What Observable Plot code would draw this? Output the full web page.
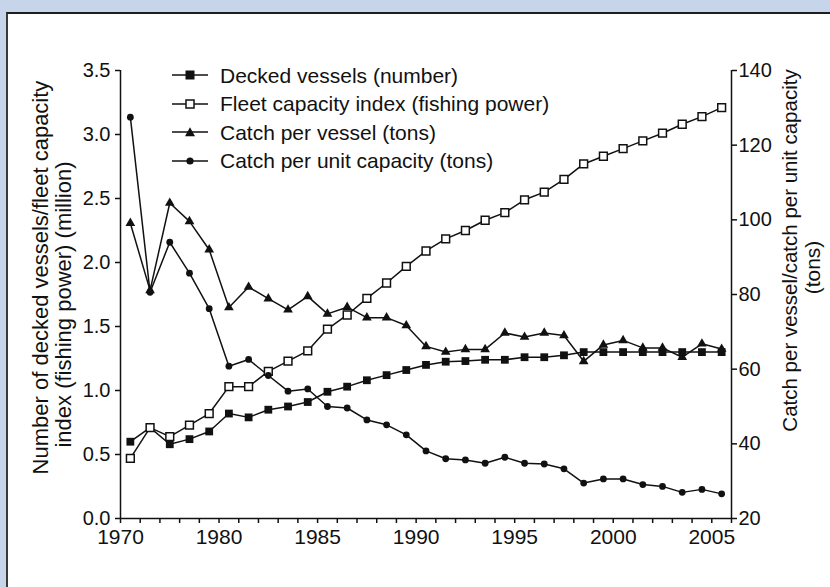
<!DOCTYPE html>
<html><head><meta charset="utf-8">
<script src="https://cdn.jsdelivr.net/npm/d3@7"></script>
<script src="https://cdn.jsdelivr.net/npm/@observablehq/plot@0.6"></script>
<style>
html,body{margin:0;padding:0;width:830px;height:587px;overflow:hidden;background:#c6d5ea;font-family:"Liberation Sans",Arial,sans-serif;}
#panel{position:absolute;left:6px;top:12px;width:840px;height:600px;background:#fff;border-top:2px solid #1e1e1e;border-left:2px solid #3a3a3a;}
#chart{position:absolute;left:0;top:0;}
#legend{position:absolute;left:172px;top:61px;font-size:21px;color:#111;line-height:1;}
.row{height:28.5px;display:flex;align-items:center;white-space:nowrap;}
.row svg{margin-right:12px;flex:none;}
</style></head><body>
<div id="panel"></div><div id="chart"></div><div id="legend"></div>
<script>
// ---- data ----
const years = d3.range(1975, 2006);
const deckedVessels = [0.60,0.71,0.58,0.62,0.68,0.82,0.79,0.85,0.875,0.91,0.99,1.03,1.08,1.12,1.16,1.20,
  1.225,1.23,1.24,1.24,1.26,1.26,1.275,1.30,1.30,1.30,1.30,1.30,1.30,1.30,1.30];
const fleetCapacity = [0.47,0.71,0.64,0.73,0.82,1.03,1.03,1.15,1.23,1.31,1.48,1.59,
  1.72,1.84,1.97,2.09,2.185,2.25,2.33,2.39,2.49,2.55,2.65,2.77,2.83,2.89,2.95,3.01,3.08,3.14,3.21];
const catchPerVessel = [99.1,81.1,104.5,99.6,92.0,76.5,82.0,78.9,75.9,79.5,74.8,76.6,73.8,73.8,71.7,66.1,
  64.6,65.3,65.3,69.7,68.6,69.7,69.0,62.1,66.5,67.7,65.7,65.7,63.2,66.8,65.4];
const catchPerCapacity = [127.5,80.6,94.0,85.7,76.2,60.8,62.6,58.3,54.1,54.7,50.0,49.6,46.4,45.1,42.4,38.1,
  36.0,35.7,34.8,36.4,34.8,34.6,33.3,29.5,30.6,30.6,29.1,28.6,27.0,27.8,26.6];
const seriesNames = ["Decked vessels (number)","Fleet capacity index (fishing power)","Catch per vessel (tons)","Catch per unit capacity (tons)"];
const xDomain = [1975, 2006];
const xLabelYears = [1975,1980,1985,1990,1995,2000,2005];
const xTickLabels = ["1970","1980","1985","1990","1995","2000","2005"];
const leftDomain = [0, 3.5];
const leftTicks = [0,0.5,1,1.5,2,2.5,3,3.5];
const rightDomain = [20, 140];
const rightTicks = [20,40,60,80,100,120,140];
const leftTitle = ["Number of decked vessels/fleet capacity","index (fishing power) (million)"];
const rightTitle = ["Catch per vessel/catch per unit capacity","(tons)"];

// right axis values mapped onto the shared (left) y scale
const toLeft = v => (v - rightDomain[0]) / (rightDomain[1] - rightDomain[0]) * (leftDomain[1] - leftDomain[0]) + leftDomain[0];
const fromLeft = v => (v - leftDomain[0]) / (leftDomain[1] - leftDomain[0]) * (rightDomain[1] - rightDomain[0]) + rightDomain[0];

const table = years.map((year, i) => ({
  x: year + 0.5,
  decked: deckedVessels[i],
  fleet: fleetCapacity[i],
  cpv: toLeft(catchPerVessel[i]),
  cpu: toLeft(catchPerCapacity[i])
}));
const labelOf = new Map(xLabelYears.map((y, i) => [y, xTickLabels[i]]));
const INK = "#111";
const SW = 1.5;
const titleStyle = {rotate: -90, textAnchor: "middle", lineAnchor: "middle", fontSize: 21, fill: INK};

const chart = Plot.plot({
  width: 830, height: 587,
  marginLeft: 120, marginRight: 99, marginTop: 70, marginBottom: 69,
  style: {background: "transparent", color: INK, fontFamily: '"Liberation Sans", Arial, sans-serif'},
  x: {domain: xDomain, axis: null},
  y: {domain: leftDomain, axis: null},
  marks: [
    Plot.ruleY([leftDomain[0]], {stroke: INK, strokeWidth: SW}),
    Plot.ruleX(xDomain, {stroke: INK, strokeWidth: SW}),
    Plot.axisX(d3.range(xDomain[0], xDomain[1] + 1), {tickSize: 5, tickPadding: 6, fontSize: 21,
      tickFormat: d => labelOf.get(d) ?? "", label: null, strokeWidth: SW}),
    Plot.axisY(leftTicks, {anchor: "left", tickSize: 5, tickPadding: 5, fontSize: 20,
      tickFormat: d3.format(".1f"), label: null, strokeWidth: SW}),
    Plot.axisY(rightTicks.map(toLeft), {anchor: "right", tickSize: 5, tickPadding: 2, fontSize: 20,
      tickFormat: d => String(Math.round(fromLeft(d))), label: null, strokeWidth: SW}),
    // series
    Plot.lineY(table, {x: "x", y: "decked", stroke: INK, strokeWidth: SW}),
    Plot.lineY(table, {x: "x", y: "fleet", stroke: INK, strokeWidth: SW}),
    Plot.lineY(table, {x: "x", y: "cpv", stroke: INK, strokeWidth: SW}),
    Plot.lineY(table, {x: "x", y: "cpu", stroke: INK, strokeWidth: SW}),
    Plot.dot(table, {x: "x", y: "decked", symbol: "square", fill: INK, r: 4.4}),
    Plot.dot(table, {x: "x", y: "fleet", symbol: "square", fill: "#fff", stroke: INK, strokeWidth: 1.5, r: 4.4}),
    Plot.dot(table, {x: "x", y: "cpv", symbol: "triangle", fill: INK, r: 3.6}),
    Plot.dot(table, {x: "x", y: "cpu", symbol: "circle", fill: INK, r: 3.4}),
    // axis titles
    Plot.text([leftTitle[0]], {frameAnchor: "left", dx: -80, dy: -17, ...titleStyle, fontSize: 22}),
    Plot.text([leftTitle[1]], {frameAnchor: "left", dx: -57, dy: 10, ...titleStyle, fontSize: 22}),
    Plot.text([rightTitle[0]], {frameAnchor: "right", dx: 59, dy: -44, ...titleStyle, fontSize: 20.5}),
    Plot.text([rightTitle[1]], {frameAnchor: "right", dx: 82, dy: -27, ...titleStyle})
  ]
});
document.getElementById("chart").appendChild(chart);

// legend (HTML overlay)
const symbols = [
  '<rect x="13.5" y="2.5" width="9" height="9" fill="#111"/>',
  '<rect x="14" y="3" width="8" height="8" fill="#fff" stroke="#111" stroke-width="1.5"/>',
  '<path d="M18,2.2 L23,11.2 L13,11.2 Z" fill="#111"/>',
  '<circle cx="18" cy="7" r="3.6" fill="#111"/>'
];
const legend = document.getElementById("legend");
seriesNames.forEach((name, i) => {
  const row = document.createElement("div");
  row.className = "row";
  row.innerHTML = `<svg width="36" height="14" viewBox="0 0 36 14"><line x1="0" x2="36" y1="7" y2="7" stroke="#111" stroke-width="1.5"/>${symbols[i]}</svg><span>${name}</span>`;
  legend.appendChild(row);
});
</script>
</body></html>
